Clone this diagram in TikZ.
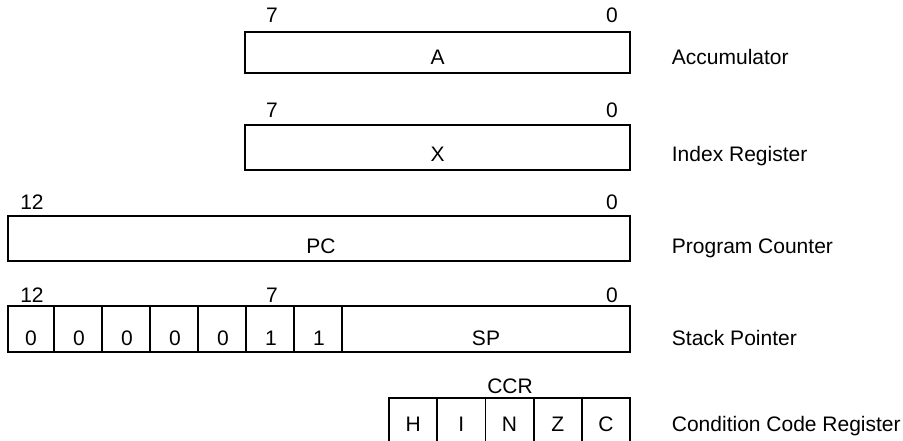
\documentclass[tikz,border=0pt]{standalone}
\usepackage{fontspec}
\setmainfont{Liberation Sans}
\usetikzlibrary{positioning}

\begin{document}
\begin{tikzpicture}[x=1pt,y=-1pt,line width=1.8pt,
	every node/.style={font=\fontsize{21}{25}\selectfont,inner sep=0pt},
	bitnum/.style={anchor=base},
	reglabel/.style={anchor=base west}]
	\useasboundingbox (0,0) rectangle (903,441);
	% accumulator
	\draw (245,32) rectangle (630,73);
	\node[bitnum] (a7) at (272,23) {7};
	\node[bitnum] (a0) at (612,23) {0};
	\node[bitnum] (acc) at (437.5,65) {A};
	\node[reglabel] (acclbl) at (671,65) {Accumulator};
	% index register
	\draw (245,125) rectangle (630,170);
	\node[bitnum] (x7) at (272,118) {7};
	\node[bitnum] (x0) at (612,118) {0};
	\node[bitnum] (idx) at (437.5,162) {X};
	\node[reglabel] (idxlbl) at (671,162) {Index Register};
	% program counter
	\draw (8,216) rectangle (630,261);
	\node[bitnum] (pc12) at (32,210) {12};
	\node[bitnum] (pc0) at (612,210) {0};
	\node[bitnum] (pc) at (321,254) {PC};
	\node[reglabel] (pclbl) at (671,254) {Program Counter};
	% stack pointer
	\draw (8,306) rectangle (630,352);
	\foreach \x in {54,102,150,198,246,294,342}
		\draw (\x,306) -- (\x,352);
	\foreach \v [count=\i] in {0,0,0,0,0,1,1}
		\node[bitnum] (sp\i) at (-17+48*\i,345) {\v};
	\node[bitnum] (sp12) at (32,302) {12};
	\node[bitnum] (sp7) at (272,302) {7};
	\node[bitnum] (sp0) at (612,302) {0};
	\node[bitnum] (sp) at (486,345) {SP};
	\node[reglabel] (splbl) at (671,345) {Stack Pointer};
	% condition code register
	\node[bitnum] (ccr) at (510,393) {CCR};
	\foreach \f [count=\i from 0] in {H,I,N,Z,C} {
		\draw (389+48.2*\i,398) rectangle (437.2+48.2*\i,450);
		\node[bitnum] (f\f) at (413.1+48.2*\i,431) {\f};
	}
	\node[reglabel] (ccrlbl) at (671,431) {Condition Code Register};
\end{tikzpicture}
\end{document}
